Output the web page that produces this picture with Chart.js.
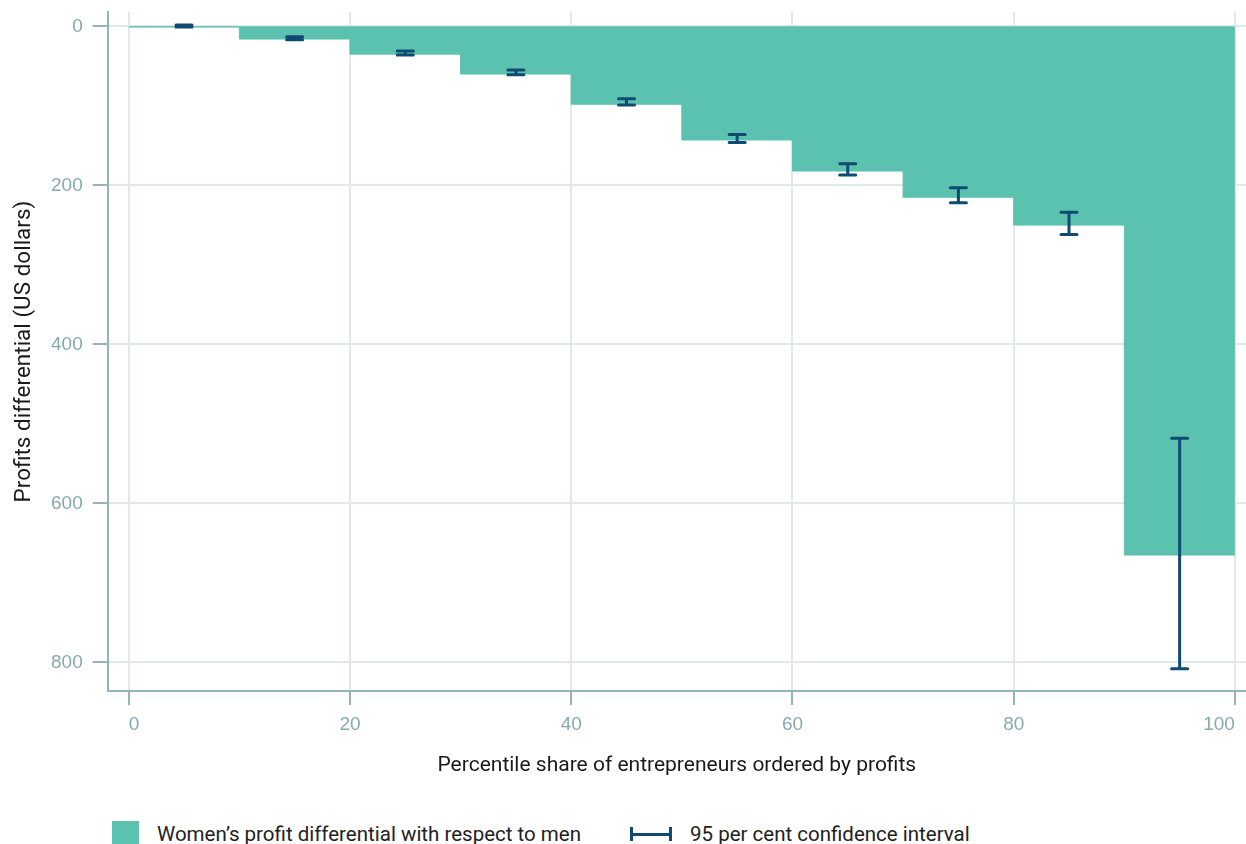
<!DOCTYPE html>
<html>
<head>
<meta charset="utf-8">
<script src="https://cdn.jsdelivr.net/npm/chart.js@4.4.1/dist/chart.umd.min.js"></script>
<style>
  body { margin: 0; background: #fff; }
  #wrap { position: relative; width: 1246px; height: 844px; overflow: hidden; }
  #chartBox { position: absolute; left: 0; top: 0; width: 1246px; height: 788px; }
  .legItem { position: absolute; top: 820px; height: 28px; display: flex; align-items: center;
             font-family: Roboto, "Liberation Sans", sans-serif; font-size: 20.5px; color: #222; white-space: nowrap; }
  .swatch { width: 27px; height: 26px; background: #5cc2b0; margin-right: 18px; }
  .errIcon { width: 36px; height: 14px; border-left: 3px solid #0e4a72; border-right: 3px solid #0e4a72;
             background: linear-gradient(#0e4a72, #0e4a72) center / 100% 3px no-repeat; margin-right: 18px; }
</style>
</head>
<body>
<div id="wrap">
  <div id="chartBox"><canvas id="pChart"></canvas></div>
  <div class="legItem" style="left:112px"><span class="swatch"></span>Women’s profit differential with respect to men</div>
  <div class="legItem" style="left:630px"><span class="errIcon"></span>95 per cent confidence interval</div>
</div>
<script>
// percentile bins (left edge) and the profit gap for each bin
let binStarts = [0, 10, 20, 30, 40, 50, 60, 70, 80, 90, 100];
let gapValues = [1, 16, 35, 60, 98, 143, 182, 215, 250, 665, 665];

// 95% confidence interval, one per bin midpoint
let ciX = [5, 15, 25, 35, 45, 55, 65, 75, 85, 95];
let ciLow = [-1.5, 13, 31, 55, 91, 136, 173, 203, 234, 518];
let ciHigh = [1, 17, 36, 61, 99, 146, 187, 222, 262, 808];

let xTicks = [0, 20, 40, 60, 80, 100];
let yTicks = [0, 200, 400, 600, 800];

const teal = '#5cc2b0';
const navy = '#0e4a72';
const tickGrey = '#87a9b1';
const axisGrey = '#97b3b9';
const gridGrey = '#e0e9e8';

let stepData = binStarts.map((x, i) => ({ x: x, y: gapValues[i] }));

// draws the confidence intervals on top of the step area
const errorBars = {
    id: 'errorBars',
    afterDatasetsDraw(chart) {
        const ctx = chart.ctx;
        const xs = chart.scales.x;
        const ys = chart.scales.y;
        ctx.save();
        ctx.strokeStyle = navy;
        ctx.lineWidth = 3;
        ctx.lineCap = 'round';
        for (let i = 0; i < ciX.length; i++) {
            const px = xs.getPixelForValue(ciX[i]);
            const lo = ys.getPixelForValue(ciLow[i]);
            const hi = ys.getPixelForValue(ciHigh[i]);
            ctx.beginPath();
            ctx.moveTo(px, lo);
            ctx.lineTo(px, hi);
            ctx.moveTo(px - 8, lo);
            ctx.lineTo(px + 8, lo);
            ctx.moveTo(px - 8, hi);
            ctx.lineTo(px + 8, hi);
            ctx.stroke();
        }
        ctx.restore();
    }
};

const ctx = document.getElementById('pChart').getContext('2d');
const chart = new Chart(ctx, {
    type: 'line',
    data: {
        datasets: [{
            label: 'Women’s profit differential with respect to men',
            data: stepData,
            stepped: 'before',
            fill: { value: 0 },
            backgroundColor: teal,
            borderColor: teal,
            borderWidth: 1,
            pointRadius: 0
        }]
    },
    options: {
        responsive: true,
        maintainAspectRatio: false,
        animation: false,
        layout: { padding: { left: 0, right: 0, top: 12, bottom: 0 } },
        plugins: { legend: { display: false }, tooltip: { enabled: false } },
        scales: {
            x: {
                type: 'linear',
                min: -1.9,
                max: 101,
                afterBuildTicks: s => { s.ticks = xTicks.map(v => ({ value: v })); },
                afterFit: s => { s.paddingRight = 0; s.paddingLeft = 0; },
                border: { color: axisGrey, width: 2 },
                grid: { color: gridGrey, lineWidth: 2, tickColor: axisGrey, tickWidth: 2, tickLength: 14 },
                ticks: { color: tickGrey, padding: 8, align: 'inner',
                         font: { family: '"Liberation Sans Narrow", "Liberation Sans", sans-serif', size: 19 } },
                title: { display: true, text: 'Percentile share of entrepreneurs ordered by profits',
                         color: '#1a1a1a', padding: { top: 9, bottom: 10 },
                         font: { family: 'Roboto, "Liberation Sans", sans-serif', size: 21 } }
            },
            y: {
                type: 'linear',
                reverse: true,
                min: -18,
                max: 836,
                afterBuildTicks: s => { s.ticks = yTicks.map(v => ({ value: v })); },
                afterFit: s => { s.paddingTop = 0; s.paddingBottom = 0; },
                border: { color: axisGrey, width: 2 },
                grid: { color: gridGrey, lineWidth: 2, tickColor: axisGrey, tickWidth: 2, tickLength: 15 },
                ticks: { color: tickGrey, padding: 10,
                         font: { family: '"Liberation Sans Narrow", "Liberation Sans", sans-serif', size: 19 } },
                title: { display: true, text: 'Profits differential (US dollars)',
                         color: '#1a1a1a', padding: { top: 11, bottom: 3 },
                         font: { family: 'Roboto, "Liberation Sans", sans-serif', size: 22.5 } }
            }
        }
    },
    plugins: [errorBars]
});
</script>
</body>
</html>
